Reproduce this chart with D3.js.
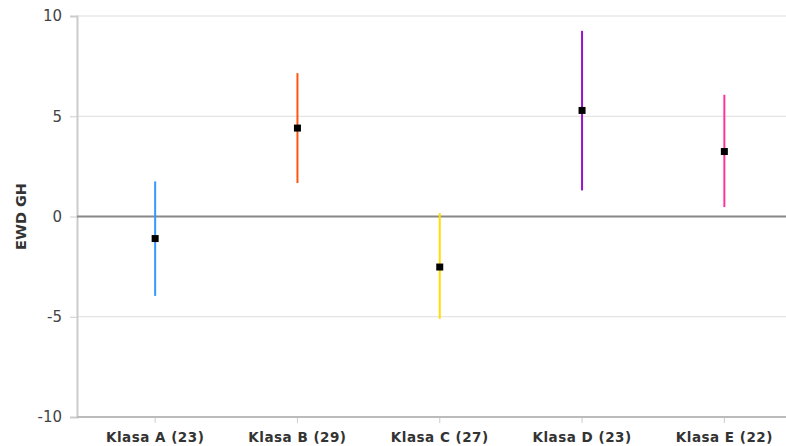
<!DOCTYPE html>
<html>
<head>
<meta charset="utf-8">
<script src="https://cdn.jsdelivr.net/npm/d3@7/dist/d3.min.js"></script>
<style>
  html, body { margin: 0; padding: 0; background: #fff; }
  svg { display: block; font-family: Tahoma, "DejaVu Sans", sans-serif; }
</style>
</head>
<body>
<svg id="chart" width="786" height="446"></svg>
<script>
const categories = ["Klasa A (23)", "Klasa B (29)", "Klasa C (27)", "Klasa D (23)", "Klasa E (22)"];
const means = [-1.10, 4.41, -2.52, 5.29, 3.24];
const upper = [1.75, 7.15, 0.17, 9.26, 6.07];
const lower = [-3.96, 1.67, -5.10, 1.30, 0.47];
const colors = ["#3399ff", "#ff5511", "#ffdd00", "#9911cc", "#ff3399"];
const yTicks = [-10, -5, 0, 5, 10];
const yTitle = "EWD GH";

(function () {
const svg = d3.select("#chart");
const mLeft = 77, mTop = 16, mBottom = 417, mRight = 786;

const x = d3.scaleBand().domain(categories).range([84, 795.5]);
const y = d3.scaleLinear().domain([-10, 10]).range([mBottom, mTop]);

// grid
svg.append("g").selectAll("line").data(yTicks.filter(t => t !== 0 && t !== -10))
  .join("line")
  .attr("x1", mLeft).attr("x2", mRight)
  .attr("y1", d => y(d)).attr("y2", d => y(d))
  .attr("stroke", "#dddddd").attr("stroke-width", 1);

// y axis
const yAxis = svg.append("g").attr("transform", `translate(${mLeft},0)`)
  .call(d3.axisLeft(y).tickValues(yTicks).tickFormat(d => String(d)).tickSize(7).tickPadding(8));
yAxis.select(".domain").attr("stroke", "#cccccc").attr("stroke-width", 2);
yAxis.selectAll(".tick line").attr("stroke", "#cccccc");
yAxis.selectAll(".tick text").attr("fill", "#444").style("font-size", "15px")
  .style("font-family", "'DejaVu Sans', sans-serif");

// x axis
const xAxis = svg.append("g").attr("transform", `translate(0,${mBottom})`)
  .call(d3.axisBottom(x).tickSize(6).tickPadding(9));
xAxis.select(".domain").remove();
svg.append("line").attr("x1", mLeft).attr("x2", mRight).attr("y1", mBottom).attr("y2", mBottom)
  .attr("stroke", "#bbbbbb").attr("stroke-width", 2);
xAxis.selectAll(".tick line").attr("stroke", "#cccccc");
xAxis.selectAll(".tick text").attr("fill", "#333").style("font-size", "13.5px")
  .style("font-weight", "bold").style("letter-spacing", "0.5px")
  .style("font-family", "'DejaVu Sans', sans-serif");

// zero line
svg.append("line").attr("x1", mLeft).attr("x2", mRight).attr("y1", y(0)).attr("y2", y(0))
  .attr("stroke", "#888888").attr("stroke-width", 2);

// y title
svg.append("text")
  .attr("transform", `translate(26,${y(0)}) rotate(-90)`)
  .attr("text-anchor", "middle")
  .attr("fill", "#333").style("font-size", "14.5px").style("font-weight", "bold")
  .style("font-family", "'DejaVu Sans', sans-serif")
  .text(yTitle);

const data = categories.map((c, i) => ({ c, m: means[i], hi: upper[i], lo: lower[i], col: colors[i] }));
const cx = d => x(d.c) + x.bandwidth() / 2;

svg.append("g").selectAll("line").data(data).join("line")
  .attr("x1", cx).attr("x2", cx)
  .attr("y1", d => y(d.hi)).attr("y2", d => y(d.lo))
  .attr("stroke", d => d.col).attr("stroke-width", 2);

svg.append("g").selectAll("rect").data(data).join("rect")
  .attr("x", d => cx(d) - 3.5).attr("y", d => y(d.m) - 3.5)
  .attr("width", 7).attr("height", 7).attr("fill", "#000");
})();
</script>
</body>
</html>
